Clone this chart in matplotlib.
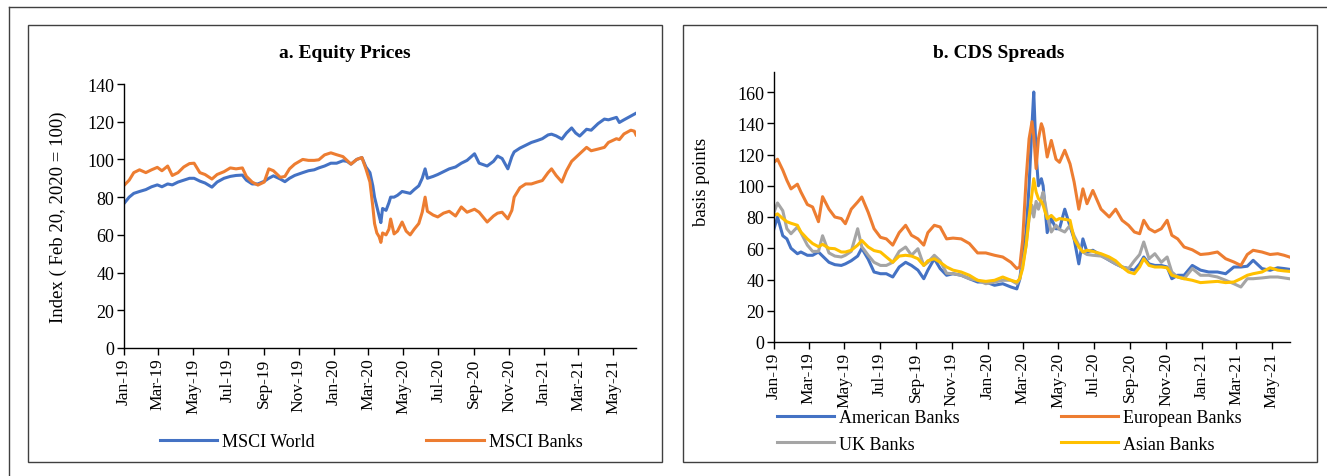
import matplotlib
matplotlib.use("Agg")
import matplotlib.pyplot as plt
import matplotlib.dates as mdates
from matplotlib.patches import Rectangle
from matplotlib.lines import Line2D
import pandas as pd

plt.rcParams['font.family'] = ['Liberation Serif', 'DejaVu Serif']

# ---------------- Panel a: Equity prices ----------------
eq_dates = [
    "2019-01-02", "2019-01-10", "2019-01-18", "2019-01-28", "2019-02-08", "2019-02-18",
    "2019-02-28", "2019-03-08", "2019-03-18", "2019-03-26", "2019-04-05", "2019-04-15",
    "2019-04-25", "2019-05-03", "2019-05-13", "2019-05-22", "2019-06-03", "2019-06-12",
    "2019-06-24", "2019-07-05", "2019-07-15", "2019-07-26", "2019-08-02", "2019-08-12",
    "2019-08-22", "2019-09-02", "2019-09-10", "2019-09-18", "2019-09-30", "2019-10-08",
    "2019-10-16", "2019-10-25", "2019-11-08", "2019-11-18", "2019-11-28", "2019-12-06",
    "2019-12-16", "2019-12-27", "2020-01-06", "2020-01-17", "2020-01-24", "2020-01-31",
    "2020-02-10", "2020-02-19", "2020-02-26", "2020-03-04", "2020-03-09", "2020-03-12",
    "2020-03-16", "2020-03-20", "2020-03-23", "2020-03-26", "2020-04-01", "2020-04-06",
    "2020-04-09", "2020-04-15", "2020-04-21", "2020-04-29", "2020-05-06", "2020-05-13",
    "2020-05-20", "2020-05-28", "2020-06-03", "2020-06-08", "2020-06-12", "2020-06-22",
    "2020-06-30", "2020-07-10", "2020-07-20", "2020-07-31", "2020-08-10", "2020-08-20",
    "2020-09-02", "2020-09-10", "2020-09-24", "2020-10-05", "2020-10-12", "2020-10-20",
    "2020-10-30", "2020-11-06", "2020-11-10", "2020-11-20", "2020-11-30", "2020-12-10",
    "2020-12-20", "2020-12-29", "2021-01-08", "2021-01-14", "2021-01-22", "2021-02-01",
    "2021-02-09", "2021-02-18", "2021-02-25", "2021-03-04", "2021-03-16", "2021-03-24",
    "2021-04-05", "2021-04-16", "2021-04-23", "2021-05-07", "2021-05-12", "2021-05-20",
    "2021-06-01", "2021-06-07", "2021-06-10",
]
msci_world = [
    77, 80, 82, 83, 84, 85.5,
    86.5, 85.5, 87, 86.5, 88, 89,
    90, 90, 88.5, 87.5, 85.3, 88,
    90, 91, 91.5, 91.7, 89, 87,
    87, 88.4, 90, 91.3, 89.6, 88.2,
    90, 91.5, 93, 94, 94.5, 95.5,
    96.5, 98, 98, 99.3, 99, 97.5,
    100, 101, 96, 93, 86, 80,
    75, 70, 66.5, 74, 73, 77,
    80, 80, 81, 83, 82.5, 82,
    84, 86, 90, 95, 90, 91,
    92, 93.5, 95, 96, 98, 99.5,
    103, 98, 96.5, 99, 101.8, 100.5,
    95, 101.5, 104, 106, 107.5, 109,
    110, 111, 113, 113.4, 112.5, 110.8,
    114, 116.7, 114, 112.4, 116, 115.5,
    119, 121.4, 121, 122.3, 119.6, 121,
    123, 124, 124.5,
]
msci_banks = [
    86.5, 89, 93, 94.5, 93, 94.5,
    95.8, 94, 96.5, 91.5, 93, 96,
    97.8, 98, 93, 92, 89.6, 92,
    93.5, 95.5, 95, 95.5, 91, 88,
    86.4, 88, 95, 94, 90.5, 91,
    95, 97.5, 100, 99.5, 99.5, 99.8,
    102.4, 103.5, 102.5, 101.5, 99.5, 97.5,
    100, 101, 95, 88, 75, 66,
    61, 59, 56, 61, 60, 63,
    68.4, 60.5, 62, 66.8, 62, 60,
    63, 66, 72, 80, 72.5, 70.5,
    69.5, 71.5, 72.5, 70, 74.8, 72,
    73.6, 72, 66.8, 70, 71.5, 72,
    68.5, 73, 80, 85, 87, 87,
    88, 88.8, 93, 95, 91.5, 88,
    94, 99, 101, 103, 106.4, 104.6,
    105.5, 106.4, 109, 111, 110.5, 113.5,
    115.5, 115, 113,
]

# ---------------- Panel b: CDS spreads ----------------
cds_dates = [
    "2019-01-01", "2019-01-07", "2019-01-16", "2019-01-23", "2019-01-30", "2019-02-10",
    "2019-02-16", "2019-02-27", "2019-03-08", "2019-03-18", "2019-03-25", "2019-04-05",
    "2019-04-15", "2019-04-26", "2019-05-03", "2019-05-13", "2019-05-24", "2019-05-31",
    "2019-06-11", "2019-06-21", "2019-07-02", "2019-07-12", "2019-07-23", "2019-08-03",
    "2019-08-14", "2019-08-24", "2019-09-04", "2019-09-14", "2019-09-21", "2019-10-02",
    "2019-10-12", "2019-10-23", "2019-11-03", "2019-11-17", "2019-12-01", "2019-12-15",
    "2019-12-29", "2020-01-13", "2020-01-27", "2020-02-10", "2020-02-20", "2020-02-25",
    "2020-03-01", "2020-03-07", "2020-03-12", "2020-03-17", "2020-03-20", "2020-03-24",
    "2020-03-28", "2020-04-02", "2020-04-05", "2020-04-12", "2020-04-19", "2020-04-27",
    "2020-05-03", "2020-05-12", "2020-05-21", "2020-05-28", "2020-06-05", "2020-06-12",
    "2020-06-19", "2020-06-29", "2020-07-13", "2020-07-27", "2020-08-07", "2020-08-18",
    "2020-08-29", "2020-09-08", "2020-09-17", "2020-09-24", "2020-10-03", "2020-10-13",
    "2020-10-24", "2020-11-03", "2020-11-11", "2020-11-21", "2020-12-02", "2020-12-16",
    "2020-12-30", "2021-01-13", "2021-01-28", "2021-02-11", "2021-02-25", "2021-03-09",
    "2021-03-20", "2021-03-30", "2021-04-14", "2021-04-28", "2021-05-11", "2021-05-22",
    "2021-05-31",
]
american_banks = [
    72.5, 80, 68, 66, 60, 56.5,
    57.6, 55.5, 55.5, 57.6, 55, 51,
    49.5, 49, 50, 52, 55, 60,
    53, 44.8, 43.7, 43.7, 41.6, 48,
    51, 49, 46, 40.5, 46, 53.3,
    47, 42.7, 43.7, 42.7, 40.5, 38.4,
    38.4, 36.3, 37.3, 35.2, 34, 40,
    55.5, 70.4, 100, 138.7, 160, 120,
    100, 104.5, 100, 70, 79, 72.5,
    72.5, 85, 74, 66, 50, 66,
    57.6, 58.7, 55.5, 52.3, 50, 48,
    47, 45.9, 50, 54.4, 50, 49,
    49, 48, 40.5, 42.7, 42.7, 49,
    46, 44.8, 44.8, 43.7, 48, 48,
    48.5, 52.3, 47, 45.9, 47.5, 47,
    46.5,
]
european_banks = [
    115, 117, 110, 103.5, 98, 101,
    96, 88, 86.4, 77, 93, 85,
    80, 79, 75.7, 85, 89.6, 92.8,
    83, 72.5, 67, 66, 62, 70,
    74.7, 68.3, 66, 62, 70, 74.7,
    73.6, 66, 66.5, 66, 63, 57,
    57, 55.5, 54.4, 51, 47, 48,
    65, 104.5, 130, 141, 132, 111,
    130, 139.7, 136.5, 118.4, 129, 117,
    115, 122.7, 114, 102.4, 85, 98,
    88.5, 97, 85, 80, 85, 77.9,
    74.7, 70.4, 69.3, 77.9, 72.5, 70.4,
    72.5, 77.9, 68.3, 66, 60.8, 59,
    56, 56.5, 57.6, 53.3, 51.2, 49,
    56, 58.7, 57.6, 56, 56.5, 55.5,
    54.4,
]
uk_banks = [
    83, 89, 84, 72.5, 69.3, 73.6,
    70, 62, 58, 58, 68, 57,
    55, 54.4, 55.5, 58, 72.5, 61,
    55.5, 51, 49, 49, 51, 58,
    60.8, 55.5, 59.7, 49, 51, 55.5,
    52, 44, 43.7, 42.7, 40.5, 39.5,
    37.3, 38.4, 39.5, 39.5, 37.3, 40.5,
    49, 62, 79, 87.5, 80, 90,
    85, 92, 96, 81, 70.4, 74.7,
    72, 70.4, 74.7, 68, 62, 57.6,
    56, 55.5, 55, 52.5, 50, 48,
    47, 52, 56, 64, 53.3, 56.5,
    51, 54.4, 44.8, 41.6, 40.5, 47,
    42.7, 42.7, 41.6, 39.5, 37.3, 35.2,
    40.5, 40.5, 41, 41.6, 41.6, 41,
    40.5,
]
asian_banks = [
    81, 82, 79, 77, 76, 74.7,
    70.4, 66, 63, 61, 62.5, 60,
    59.7, 57.6, 57.6, 58.7, 62, 65,
    60.8, 58.5, 57.6, 54.4, 51, 55,
    55.5, 55, 53.3, 49, 52, 53.3,
    51, 48, 46, 44.8, 42.7, 39.5,
    38.8, 39.5, 41.6, 39.5, 38.4, 40.5,
    47, 62, 80, 95, 104.5, 96,
    91.7, 90, 87.5, 79, 81, 77.9,
    79, 78.5, 77.9, 66, 60.8, 57.6,
    58.7, 58, 56.5, 54.4, 52, 48,
    44.8, 43.7, 48, 53.3, 49, 48,
    48, 47.5, 42.7, 41.6, 40.5, 39.5,
    38, 38.4, 38.8, 38, 38.4, 40.5,
    42.7, 43.7, 44.8, 47.5, 46, 45.5,
    45.2,
]

BLUE, ORANGE, GREY, YELLOW = "#4472C4", "#ED7D31", "#A5A5A5", "#FFC000"

W, H = 1327, 477
fig = plt.figure(figsize=(W / 100, H / 100), dpi=100)


def fx(px):
    return px / W


def fy(py):
    return 1 - py / H


# outer frame lines and panel boxes
fig.add_artist(Line2D([fx(9), 1.0], [fy(8), fy(8)], color="#404040", lw=1.0))
fig.add_artist(Line2D([fx(9), fx(9)], [fy(8), 0.0], color="#404040", lw=1.0))
for x0, x1 in [(28, 662), (683, 1317)]:
    fig.add_artist(Rectangle((fx(x0), fy(463)), fx(x1 - x0), (463 - 26) / H,
                             fill=False, edgecolor="#404040", lw=1.0))


def style_axis(ax):
    for s in ["top", "right"]:
        ax.spines[s].set_visible(False)
    for s in ["left", "bottom"]:
        ax.spines[s].set_color("black")
        ax.spines[s].set_linewidth(1.0)
    ax.xaxis.set_major_locator(mdates.MonthLocator(bymonth=[1, 3, 5, 7, 9, 11]))
    ax.xaxis.set_major_formatter(mdates.DateFormatter("%b-%y"))
    ax.tick_params(axis="both", direction="out", length=5, width=1.0,
                   colors="black", pad=2)
    ax.tick_params(axis="y", labelsize=13)
    ax.tick_params(axis="x", labelsize=12.5)
    for lab in ax.get_xticklabels():
        lab.set_rotation(90)


# ---- panel a ----
ax1 = fig.add_axes([fx(124), fy(349), fx(636 - 124), (349 - 85) / H])
d1 = pd.to_datetime(eq_dates)
ax1.plot(d1, msci_world, color=BLUE, lw=2.2, label="MSCI World")
ax1.plot(d1, msci_banks, color=ORANGE, lw=2.2, label="MSCI Banks")
ax1.set_ylim(0, 140)
ax1.set_yticks(range(0, 141, 20))
ax1.set_xlim(pd.Timestamp("2019-01-01"), pd.Timestamp("2021-06-10"))
style_axis(ax1)
ax1.set_ylabel("Index ( Feb 20, 2020 = 100)", fontsize=13.5)
ax1.yaxis.set_label_coords((67 - 124) / 512, 0.5)
ax1.legend(loc="center", bbox_to_anchor=(fx(371), fy(443)), bbox_transform=fig.transFigure,
           ncol=2, frameon=False, fontsize=13, handlelength=3.2, handletextpad=0.25,
           columnspacing=6.2)
fig.text(fx(345), fy(53), "a. Equity Prices", ha="center", va="center",
         fontsize=14, fontweight="bold")

# ---- panel b ----
ax2 = fig.add_axes([fx(774), fy(343), fx(1290 - 774), (343 - 73) / H])
d2 = pd.to_datetime(cds_dates)
ax2.plot(d2, american_banks, color=BLUE, lw=2.2, label="American Banks")
ax2.plot(d2, european_banks, color=ORANGE, lw=2.2, label="European Banks")
ax2.plot(d2, uk_banks, color=GREY, lw=2.2, label="UK Banks")
ax2.plot(d2, asian_banks, color=YELLOW, lw=2.2, label="Asian Banks")
ax2.set_ylim(0, 172.8)
ax2.set_yticks(range(0, 161, 20))
ax2.set_xlim(pd.Timestamp("2019-01-01"), pd.Timestamp("2021-06-01"))
style_axis(ax2)
ax2.set_ylabel("basis points", fontsize=13.5)
ax2.yaxis.set_label_coords((710 - 774) / 516, 0.596)
h, l = ax2.get_legend_handles_labels()
order = [0, 2, 1, 3]
ax2.legend([h[i] for i in order], [l[i] for i in order], loc="center",
           bbox_to_anchor=(fx(1009), fy(432)), bbox_transform=fig.transFigure,
           ncol=2, frameon=False, fontsize=13, handlelength=3.2, handletextpad=0.25,
           columnspacing=5.6, labelspacing=0.5)
fig.text(fx(999), fy(53), "b. CDS Spreads", ha="center", va="center",
         fontsize=14, fontweight="bold")

fig.savefig("out.png", dpi=100)
